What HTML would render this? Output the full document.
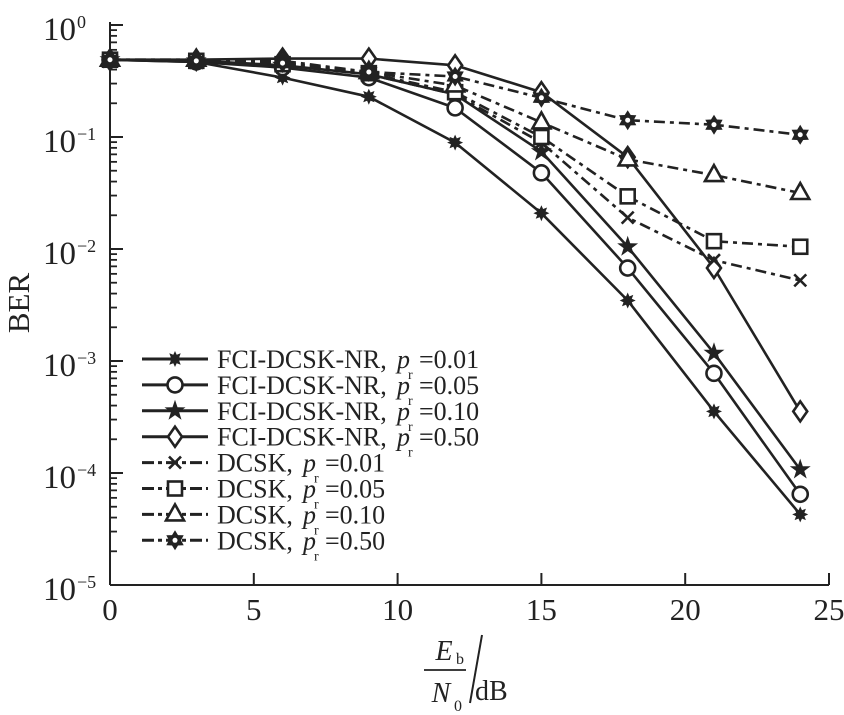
<!DOCTYPE html>
<html><head><meta charset="utf-8"><style>
html,body{margin:0;padding:0;background:#fff;}
svg{display:block;font-family:"Liberation Serif",serif;}
</style></head><body>
<svg id="s" width="844" height="715" viewBox="0 0 844 715" xmlns="http://www.w3.org/2000/svg"></svg>
<script>
const S=document.getElementById('s');let h='';
const X0=110,XS=28.76,Y0=25,YD=112;
const px=x=>X0+XS*x, py=l=>Y0-YD*l;
const col='#222';
h+=`<line x1="${X0}" y1="${Y0-3}" x2="${X0}" y2="${py(-5)}" stroke="${col}" stroke-width="2"/>`;
h+=`<line x1="${X0}" y1="${py(-5)}" x2="${px(25)}" y2="${py(-5)}" stroke="${col}" stroke-width="2"/>`;
for(let d=0;d<=5;d++){
  const y=py(-d);
  h+=`<line x1="${X0}" y1="${y}" x2="${X0+13}" y2="${y}" stroke="${col}" stroke-width="2"/>`;
  h+=`<text x="76" y="${y+15}" font-size="33" text-anchor="end" fill="${col}">10</text>`;
  h+=`<text x="77" y="${y+3}" font-size="18" fill="${col}">${d==0?'0':'\u2212'+d}</text>`;
  if(d<5)for(let k=2;k<=9;k++){const yy=py(-d-1+Math.log10(k));h+=`<line x1="${X0}" y1="${yy}" x2="${X0+7}" y2="${yy}" stroke="${col}" stroke-width="1.8"/>`;}
}
for(let v=0;v<=25;v+=5){const x=px(v);
  if(v>0)h+=`<line x1="${x}" y1="${py(-5)}" x2="${x}" y2="${py(-5)-12}" stroke="${col}" stroke-width="2"/>`;
  h+=`<text x="${x}" y="620" font-size="31" text-anchor="middle" fill="${col}">${v}</text>`;}
h+=`<text transform="translate(29,303) rotate(-90)" font-size="31" text-anchor="middle" fill="${col}">BER</text>`;
h+=`<text x="444" y="660" font-size="28" font-style="italic" text-anchor="middle" fill="${col}">E</text><text x="456" y="664" font-size="16" fill="${col}">b</text>`;
h+=`<line x1="424" y1="670" x2="466" y2="670" stroke="${col}" stroke-width="1.8"/>`;
h+=`<text x="441" y="702" font-size="28" font-style="italic" text-anchor="middle" fill="${col}">N</text><text x="454" y="711" font-size="16" fill="${col}">0</text>`;
h+=`<line x1="482" y1="635" x2="470" y2="703" stroke="${col}" stroke-width="2"/>`;
h+=`<text x="475" y="700" font-size="28" fill="${col}">dB</text>`;
const xs=[0,3,6,9,12,15,18,21,24];
const series=[
 ['ast',0,[-.31,-.33,-.47,-.64,-1.05,-1.68,-2.46,-3.45,-4.37]],
 ['circ',0,[-.31,-.33,-.38,-.47,-.74,-1.32,-2.17,-3.11,-4.19]],
 ['star',0,[-.31,-.32,-.36,-.44,-.62,-1.13,-1.98,-2.93,-3.97]],
 ['dia',0,[-.31,-.31,-.3,-.3,-.36,-.6,-1.18,-2.17,-3.45]],
 ['x',1,[-.31,-.32,-.36,-.44,-.62,-1.05,-1.72,-2.1,-2.28]],
 ['sq',1,[-.31,-.32,-.35,-.43,-.6,-1.0,-1.53,-1.93,-1.98]],
 ['tri',1,[-.31,-.31,-.32,-.42,-.54,-.87,-1.2,-1.34,-1.5]],
 ['hex',1,[-.31,-.32,-.34,-.42,-.46,-.65,-.85,-.89,-.98]],
];
function star(cx,cy,r,n,ri){let p=[];for(let i=0;i<2*n;i++){const a=-Math.PI/2+i*Math.PI/n;const rr=i%2?ri:r;p.push((cx+rr*Math.cos(a)).toFixed(1)+','+(cy+rr*Math.sin(a)).toFixed(1));}return p.join(' ');}
function mk(t,x,y){
 const st=`stroke="${col}" stroke-width="2.6"`;
 switch(t){
 case 'ast':return `<polygon points="${star(x,y,8,8,4.5)}" fill="${col}"/>`;
 case 'circ':return `<circle cx="${x}" cy="${y}" r="7.5" fill="#fff" ${st}/>`;
 case 'star':return `<polygon points="${star(x,y,11,5,4.3)}" fill="${col}"/>`;
 case 'dia':return `<polygon points="${x},${y-10} ${x+7},${y} ${x},${y+10} ${x-7},${y}" fill="#fff" ${st}/>`;
 case 'x':return `<path d="M${x-6},${y-6}L${x+6},${y+6}M${x+6},${y-6}L${x-6},${y+6}" ${st} stroke-width="3"/>`;
 case 'sq':return `<rect x="${x-7}" y="${y-7}" width="14" height="14" fill="#fff" ${st}/>`;
 case 'tri':return `<polygon points="${x},${y-10} ${x+9},${y+6} ${x-9},${y+6}" fill="#fff" ${st}/>`;
 case 'hex':return `<polygon points="${star(x,y,10,6,6)}" fill="${col}"/><circle cx="${x}" cy="${y}" r="2.5" fill="#fff"/>`;
 }}
const dash='11 5 4 5';
series.forEach(s=>{
 const pts=xs.map((x,i)=>px(x).toFixed(1)+','+py(s[2][i]).toFixed(1)).join(' ');
 h+=`<polyline points="${pts}" fill="none" stroke="${col}" stroke-width="2.6" ${s[1]?`stroke-dasharray="${dash}"`:''} stroke-linejoin="round"/>`;
});
series.forEach(s=>{xs.forEach((x,i)=>{h+=mk(s[0],px(x),py(s[2][i]));});});
const labs=[['FCI-DCSK-NR,','0.01'],['FCI-DCSK-NR,','0.05'],['FCI-DCSK-NR,','0.10'],['FCI-DCSK-NR,','0.50'],['DCSK,','0.01'],['DCSK,','0.05'],['DCSK,','0.10'],['DCSK,','0.50']];
series.forEach((s,i)=>{
 const y=359+i*25.9;
 h+=`<line x1="142" y1="${y}" x2="208" y2="${y}" stroke="${col}" stroke-width="3" ${s[1]?'stroke-dasharray="12 4 4 4"':''}/>`;
 h+=mk(s[0],175,y);
 const px0=s[1]?303:397;
 h+=`<text x="217" y="${y+9}" font-size="26" fill="${col}">${labs[i][0]}</text>`;
 h+=`<text x="${px0}" y="${y+9}" font-size="26" font-style="italic" fill="${col}">p</text>`;
 h+=`<text x="${px0+11}" y="${y+20}" font-size="14" fill="${col}">r</text>`;
 h+=`<text x="${px0+22}" y="${y+9}" font-size="26" fill="${col}">=${labs[i][1]}</text>`;
});
S.innerHTML=h;
</script>
</body></html>
